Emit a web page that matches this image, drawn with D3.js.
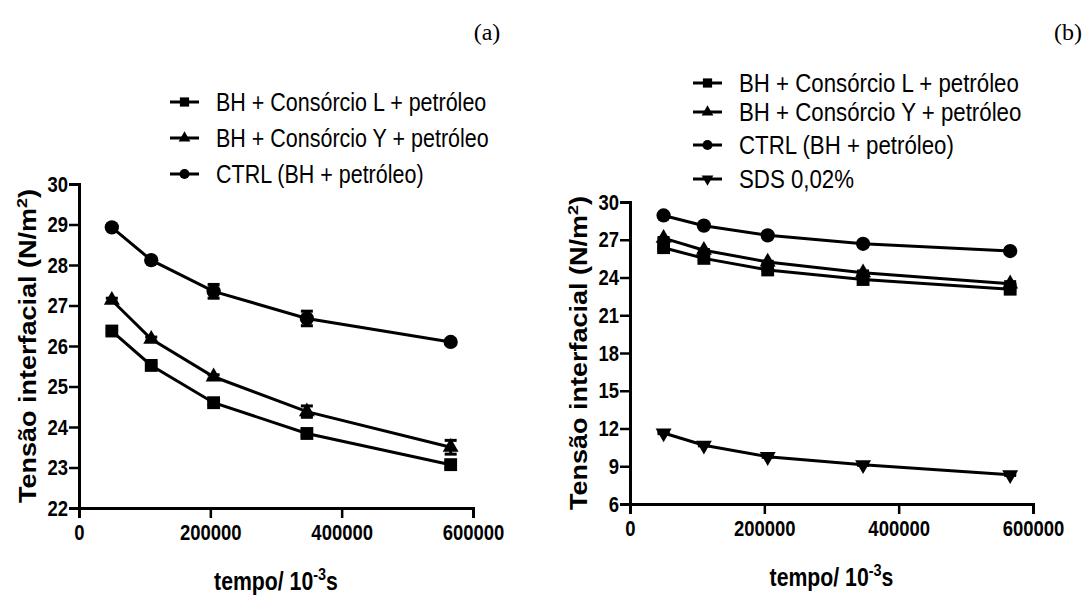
<!DOCTYPE html>
<html>
<head>
<meta charset="utf-8">
<script src="https://cdn.jsdelivr.net/npm/d3@7"></script>
<style>
  body { margin: 0; background: #fff; }
  svg text { font-family: "Liberation Sans", Arial, Helvetica, sans-serif; fill: #000; }
  svg text.panel-label { font-family: "Liberation Serif", "Times New Roman", serif; font-size: 24px; }
</style>
</head>
<body>
<div id="chart"></div>
<script>
// tempo (10^-3 s)
const times = [50000, 110000, 205000, 347000, 566000];

// Tensão interfacial (N/m2)
const consorcioL = [26.37, 25.52, 24.6, 23.84, 23.07];
const consorcioY = [27.13, 26.17, 25.24, 24.38, 23.5];
const ctrl = [28.93, 28.12, 27.35, 26.68, 26.1];
const sds = [11.64, 10.67, 9.76, 9.12, 8.32];

// desvios (barras de erro)
const errL = [0.05, 0.05, 0.05, 0.05, 0.08];
const errY = [0.05, 0.05, 0.05, 0.14, 0.17];
const errCtrl = [0.05, 0.05, 0.17, 0.18, 0.05];
const errSds = [0.05, 0.05, 0.05, 0.05, 0.05];

const legendNames = [
  "BH + Consórcio L + petróleo",
  "BH + Consórcio Y + petróleo",
  "CTRL (BH + petróleo)",
  "SDS 0,02%"
];

const xTicks = [0, 200000, 400000, 600000];
const yTicksA = [22, 23, 24, 25, 26, 27, 28, 29, 30];
const yTicksB = [6, 9, 12, 15, 18, 21, 24, 27, 30];

// the original figure is squeezed horizontally, so the text is drawn narrow
const SX = 0.84;

const svg = d3.select("#chart").append("svg")
  .attr("width", 1090)
  .attr("height", 595);

const symbols = {
  square: { type: d3.symbolSquare, size: 165, legend: 85, rot: 0 },
  triangle: { type: d3.symbolTriangle, size: 110, legend: 60, rot: 0 },
  circle: { type: d3.symbolCircle, size: 160, legend: 80, rot: 0 },
  down: { type: d3.symbolTriangle, size: 110, legend: 60, rot: 180 }
};

function drawPanel(p) {
  const g = svg.append("g");
  const x = d3.scaleLinear().domain([0, 600000]).range([p.left, p.right]);
  const y = d3.scaleLinear().domain(p.yDomain).range([p.bottom, p.top]);

  // axes
  const xAxis = g.append("g")
    .attr("transform", `translate(0,${p.bottom})`)
    .call(d3.axisBottom(x).tickValues(xTicks).tickFormat(d3.format("d")).tickSize(10).tickPadding(6));
  const yAxis = g.append("g")
    .attr("transform", `translate(${p.left},0)`)
    .call(d3.axisLeft(y).tickValues(p.yTicks).tickSize(10).tickPadding(1));
  [xAxis, yAxis].forEach(a => {
    a.select(".domain").attr("stroke", "#000").attr("stroke-width", 3);
    a.selectAll(".tick line").attr("stroke", "#000").attr("stroke-width", 2.5);
    a.selectAll(".tick text")
      .attr("font-size", 22)
      .attr("font-weight", "bold")
      .style("font-family", '"Liberation Sans", Arial, sans-serif');
  });
  xAxis.selectAll(".tick text").attr("transform", `scale(${SX},1)`);
  yAxis.selectAll(".tick text")
    .attr("x", -11 / SX)
    .attr("transform", `scale(${SX},1)`);

  // axis titles
  const xt = g.append("text")
    .attr("transform", `translate(${(p.left + p.right) / 2},${p.bottom + 82}) scale(0.85,1)`)
    .attr("text-anchor", "middle")
    .attr("font-size", 25)
    .attr("font-weight", "bold");
  xt.append("tspan").text("tempo/ 10");
  xt.append("tspan").attr("dy", -10).attr("font-size", 17).text("-3");
  xt.append("tspan").attr("dy", 10).text("s");

  const yt = g.append("text")
    .attr("transform", `translate(${p.left - 43},${(p.top + p.bottom) / 2}) rotate(-90) scale(1,0.86)`)
    .attr("text-anchor", "middle")
    .attr("font-size", 27)
    .attr("font-weight", "bold");
  yt.append("tspan").text("Tensão interfacial (N/m");
  yt.append("tspan").attr("dy", -11).attr("font-size", 18).text("2");
  yt.append("tspan").attr("dy", 11).text(")");

  const line = d3.line().x((d, i) => x(times[i])).y(d => y(d));

  p.series.forEach(s => {
    const sg = g.append("g");
    sg.append("path")
      .datum(s.values)
      .attr("d", line)
      .attr("fill", "none")
      .attr("stroke", "#000")
      .attr("stroke-width", 3);

    // error bars
    s.values.forEach((v, i) => {
      const cx = x(times[i]);
      const y1 = y(v + s.err[i]), y2 = y(v - s.err[i]);
      sg.append("line").attr("x1", cx).attr("x2", cx).attr("y1", y1).attr("y2", y2)
        .attr("stroke", "#000").attr("stroke-width", 3);
      [y1, y2].forEach(yy => sg.append("line")
        .attr("x1", cx - 6).attr("x2", cx + 6).attr("y1", yy).attr("y2", yy)
        .attr("stroke", "#000").attr("stroke-width", 3));
    });

    const sym = symbols[s.symbol];
    sg.selectAll(".pt").data(s.values).enter().append("path")
      .attr("d", d3.symbol().type(sym.type).size(sym.size))
      .attr("transform", (d, i) => `translate(${x(times[i])},${y(d)}) rotate(${sym.rot})`)
      .attr("fill", "#000");
  });

  // legend
  const lg = g.append("g");
  p.series.forEach((s, i) => {
    const ly = p.legendY[i];
    const sym = symbols[s.symbol];
    lg.append("line")
      .attr("x1", p.legendX).attr("x2", p.legendX + 29)
      .attr("y1", ly).attr("y2", ly)
      .attr("stroke", "#000").attr("stroke-width", 3);
    lg.append("path")
      .attr("d", d3.symbol().type(sym.type).size(sym.legend))
      .attr("transform", `translate(${p.legendX + 14.5},${ly}) rotate(${sym.rot})`)
      .attr("fill", "#000");
    lg.append("text")
      .attr("transform", `translate(${p.legendX + 46},${ly}) scale(${p.legendSX},1)`)
      .attr("dy", "0.36em")
      .attr("font-size", 25)
      .text(s.name);
  });

  svg.append("text")
    .attr("class", "panel-label")
    .attr("x", p.labelX)
    .attr("y", 40)
    .attr("text-anchor", "middle")
    .text(p.label);
}

drawPanel({
  left: 79, right: 473, top: 184, bottom: 508,
  yDomain: [22, 30], yTicks: yTicksA,
  legendX: 170, legendY: [102, 138, 174], legendSX: 0.86,
  label: "(a)", labelX: 487,
  series: [
    { name: legendNames[0], values: consorcioL, err: errL, symbol: "square" },
    { name: legendNames[1], values: consorcioY, err: errY, symbol: "triangle" },
    { name: legendNames[2], values: ctrl, err: errCtrl, symbol: "circle" }
  ]
});

drawPanel({
  left: 630, right: 1033, top: 202, bottom: 504,
  yDomain: [6, 30], yTicks: yTicksB,
  legendX: 693, legendY: [83, 112, 145, 179], legendSX: 0.89,
  label: "(b)", labelX: 1068,
  series: [
    { name: legendNames[0], values: consorcioL, err: errL, symbol: "square" },
    { name: legendNames[1], values: consorcioY, err: errY, symbol: "triangle" },
    { name: legendNames[2], values: ctrl, err: errCtrl, symbol: "circle" },
    { name: legendNames[3], values: sds, err: errSds, symbol: "down" }
  ]
});
</script>
</body>
</html>
